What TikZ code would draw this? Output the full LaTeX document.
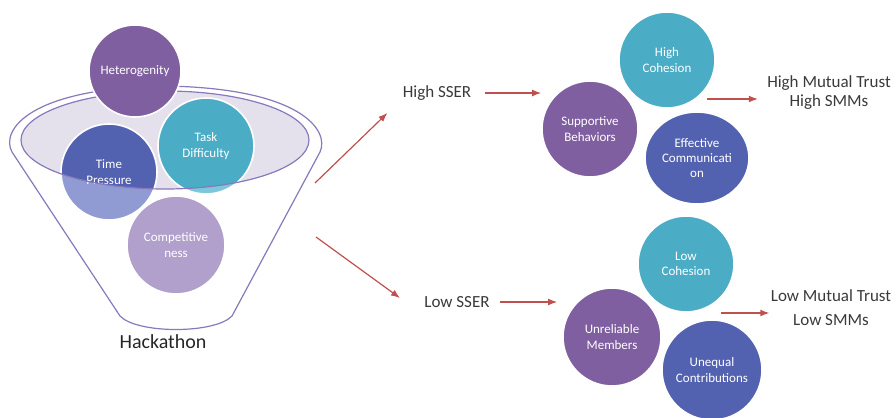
\documentclass[tikz,border=0pt]{standalone}
\usepackage{fontspec}
\setmainfont{Carlito}
\usepackage{tikz}
\usetikzlibrary{arrows.meta}
\usetikzlibrary{shapes.geometric}

\definecolor{plum}{HTML}{7F5FA0}
\definecolor{sea}{HTML}{4BACC6}
\definecolor{indigo}{HTML}{5262B0}
\definecolor{lilac}{HTML}{B1A0CB}
\definecolor{paleindigo}{HTML}{8F9BD2}
\definecolor{palesea}{HTML}{7CC8DA}
\definecolor{bowlfill}{HTML}{E4E1ED}
\definecolor{rim}{HTML}{8878BC}
\definecolor{arrowred}{HTML}{C0504D}
\definecolor{inkgray}{HTML}{3A3A3A}

\tikzset{
  bubble/.style={circle, draw=white, line width=0.8pt, inner sep=0pt, text=white, align=center, font=\fontsize{6.5}{7.6}\selectfont},
  outtext/.style={inner sep=0pt, text=inkgray, align=center, font=\fontsize{8.5}{9.5}\selectfont},
  flow/.style={draw=arrowred, line width=0.6pt, -{Latex[length=4.5pt,width=3.4pt]}}
}

\begin{document}
\begin{tikzpicture}[x=0.5pt,y=-0.5pt]
\useasboundingbox (0,0) rectangle (896,418);
% funnel
\draw[rim, line width=0.6pt] (120,316) -- (12,152) .. controls (0,130) and (30,88) .. (165,86) .. controls (300,88) and (330,130) .. (320,152) -- (232,316) .. controls (215,334) and (137,334) .. (120,316) -- cycle;
\coordinate (bowl) at (165,140);
\fill[bowlfill] (bowl) ellipse [x radius=144, y radius=49];
\node[bubble, minimum size=48pt, fill=paleindigo, path picture={\fill[indigo] (bowl) ellipse [x radius=144, y radius=49];}] (time) at (109,172) {Time\\Pressure};
\node[bubble, minimum size=48pt, fill=palesea, path picture={\fill[sea] (bowl) ellipse [x radius=144, y radius=49];}] (task) at (206,146) {Task\\Difficulty};
\draw[rim, line width=0.6pt] (bowl) ellipse [x radius=144, y radius=49];
\node[bubble, minimum size=46pt, fill=plum] (hetero) at (135,71) {Heterogenity};
\node[bubble, minimum size=49pt, fill=lilac] (compet) at (176,245) {Competitive\\ness};
\node[text=black!85, font=\fontsize{10}{12}\selectfont] (hack) at (163,342) {Hackathon};

% two outcomes
\coordinate (fhigh) at (315,183);
\coordinate (flow) at (316,237);
\node[outtext] (hsser) at (437,93) {High SSER};
\node[outtext] (lsser) at (457,302) {Low SSER};
\draw[flow] (fhigh) -- ([xshift=-7.5pt,yshift=-10pt]hsser.west);
\draw[flow] (flow) -- ([xshift=-12pt,yshift=2pt]lsser.west);

% high branch
\node[bubble, minimum size=48pt, fill=sea] (hcoh) at (667,60) {High\\Cohesion};
\node[bubble, minimum size=48pt, fill=plum] (supp) at (590,129) {Supportive\\Behaviors};
\node[bubble, ellipse, minimum width=52pt, minimum height=46pt, fill=indigo] (effc) at (697,158) {Effective\\Communicati\\on};
\draw[flow, shorten <=6.5pt] (hsser.east) -- (hsser.east -| supp.west);
\coordinate (hout) at (707,99);
\node[outtext] (htrust) at (829,93) {High Mutual Trust\\High SMMs};
\draw[flow, shorten >=4.5pt] (hout) -- (hout -| htrust.west);

% low branch
\node[bubble, minimum size=48pt, fill=sea] (lcoh) at (686,264) {Low\\Cohesion};
\node[bubble, minimum size=49pt, fill=plum] (unrel) at (612,337) {Unreliable\\Members};
\node[bubble, minimum size=50pt, fill=indigo] (uneq) at (712,370) {Unequal\\Contributions};
\draw[flow, shorten <=5pt, shorten >=2.5pt] (lsser.east) -- (lsser.east -| unrel.west);
\coordinate (lout) at (721,313);
\node[outtext] (ltrust) at (831,308) {Low Mutual Trust\\[2.5pt]Low SMMs};
\draw[flow, shorten >=0.5pt] (lout) -- (lout -| ltrust.west);
\end{tikzpicture}
\end{document}
